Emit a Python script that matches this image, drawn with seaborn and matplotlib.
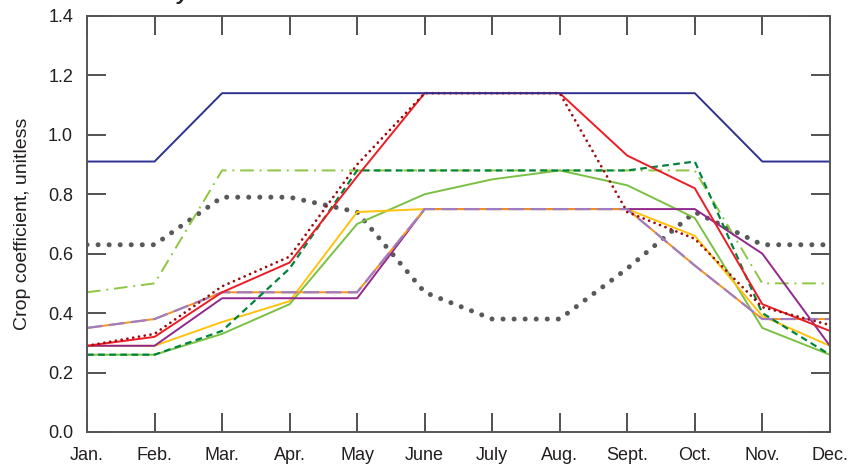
import numpy as np
import pandas as pd
import matplotlib
matplotlib.use("Agg")
import matplotlib.pyplot as plt
import seaborn as sns

# Month labels
months = ["Jan.", "Feb.", "Mar.", "Apr.", "May", "June", "July", "Aug.",
          "Sept.", "Oct.", "Nov.", "Dec."]

# Crop coefficient series
navy_solid = [0.91, 0.91, 1.14, 1.14, 1.14, 1.14, 1.14, 1.14, 1.14, 1.14, 0.91, 0.91]
red_solid = [0.29, 0.32, 0.47, 0.57, 0.86, 1.14, 1.14, 1.14, 0.93, 0.82, 0.43, 0.34]
darkred_dotted = [0.29, 0.33, 0.49, 0.59, 0.90, 1.14, 1.14, 1.14, 0.74, 0.65, 0.42, 0.36]
green_dashed = [0.26, 0.26, 0.34, 0.55, 0.88, 0.88, 0.88, 0.88, 0.88, 0.91, 0.40, 0.26]
lime_dashdot = [0.47, 0.50, 0.88, 0.88, 0.88, 0.88, 0.88, 0.88, 0.88, 0.88, 0.50, 0.50]
lime_solid = [0.26, 0.26, 0.33, 0.43, 0.70, 0.80, 0.85, 0.88, 0.83, 0.72, 0.35, 0.26]
gold_solid = [0.29, 0.29, 0.37, 0.44, 0.74, 0.75, 0.75, 0.75, 0.75, 0.66, 0.39, 0.29]
purple_solid = [0.29, 0.29, 0.45, 0.45, 0.45, 0.75, 0.75, 0.75, 0.75, 0.75, 0.60, 0.29]
lavender_dashed = [0.35, 0.38, 0.47, 0.47, 0.47, 0.75, 0.75, 0.75, 0.75, 0.56, 0.38, 0.38]
gray_dotted = [0.63, 0.63, 0.79, 0.79, 0.74, 0.47, 0.38, 0.38, 0.55, 0.74, 0.63, 0.63]

sns.set_theme(style="white")
plt.rcParams["font.family"] = ["Liberation Sans Narrow", "Liberation Sans", "DejaVu Sans"]

fig = plt.figure(figsize=(8.48, 4.68), dpi=100)
ax = fig.add_axes([0.1026, 0.077, 0.876, 0.889])

x = np.arange(len(months))

# (values, color, linestyle, linewidth, capstyle)
series = [
    (gray_dotted, "#58595b", (0, (0.01, 2.2)), 3.6, "round"),
    (lime_dashdot, "#8dc63f", (0, (7, 3, 1, 3)), 1.4, "butt"),
    (lime_solid, "#7ac143", "-", 1.4, "butt"),
    (gold_solid, "#ffc20e", "-", 1.4, "butt"),
    (purple_solid, "#92278f", "-", 1.4, "butt"),
    (lavender_dashed, "#f7941d", "-", 1.4, "butt"),
    (lavender_dashed, "#a07cc0", (0, (7, 3)), 1.6, "butt"),
    (green_dashed, "#00843d", (0, (3, 2)), 1.6, "butt"),
    (red_solid, "#ed1c24", "-", 1.4, "butt"),
    (darkred_dotted, "#9e0b0f", (0, (0.01, 2.1)), 2.0, "round"),
    (navy_solid, "#2e3192", "-", 1.4, "butt"),
]

for vals, color, ls, lw, cap in series:
    sns.lineplot(x=x, y=vals, ax=ax, color=color, linestyle=ls, linewidth=lw,
                 dash_capstyle=cap, solid_capstyle="butt", legend=False)

ax.set_xlim(0, 11)
ax.set_ylim(0, 1.4)
ax.set_xticks(x)
ax.set_xticklabels(months)
ax.set_yticks(np.arange(0, 1.41, 0.2))
ax.set_yticklabels([f"{v:.1f}" for v in np.arange(0, 1.41, 0.2)])
ax.set_ylabel("Crop coefficient, unitless", fontsize=14, color="#231f20", labelpad=12)

ax.tick_params(axis="both", direction="in", length=14, width=1.2, color="#333333",
               labelsize=13, labelcolor="#231f20", bottom=True, left=True,
               top=True, right=True, labeltop=False, labelright=False)
ax.tick_params(axis="x", pad=11)
ax.tick_params(axis="y", pad=10)
for sp in ax.spines.values():
    sp.set_visible(True)
    sp.set_color("#555555")
    sp.set_linewidth(1.4)

# Title, cut off at the top edge of the image as in the source
fig.text(0.112, 1.012, "of multi-year land use", fontsize=15, fontweight="bold",
         fontstyle="italic", color="#231f20", va="center", ha="left")

fig.savefig("out.png", dpi=100)
